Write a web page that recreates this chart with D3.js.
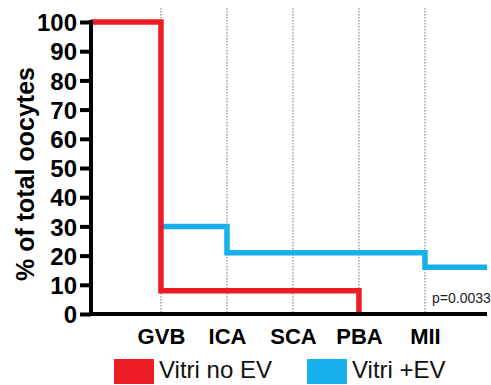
<!DOCTYPE html>
<html><head><meta charset="utf-8">
<script src="https://cdn.jsdelivr.net/npm/d3@7"></script>
<style>body{margin:0;background:#fff}svg{display:block}</style>
</head><body>
<svg id="c" width="491" height="385"></svg>
<script>
const categories = ["GVB", "ICA", "SCA", "PBA", "MII"];
const yTicks = [0, 10, 20, 30, 40, 50, 60, 70, 80, 90, 100];
// Vitri no EV: value before GVB, then value after each stage (ends at PBA)
const noEVStart = 100;
const noEVValues = [8, 8, 8, 0];
// Vitri +EV: value after each stage
const plusEVValues = [30, 21, 21, 21, 16];
const seriesNames = ["Vitri no EV", "Vitri +EV"];
const seriesColors = ["#ed1c24", "#18b0ec"];
const pText = "p=0.0033";

const svg = d3.select("#c");
const font = "'Liberation Sans', Arial, sans-serif";
const x = d3.scaleLinear().domain([-1.06, 4.94]).range([91, 487]);
const y = d3.scaleLinear().domain([0, 100]).range([314, 22]);
const xStart = x.domain()[0], xEnd = x.domain()[1];

// dotted verticals
svg.append("g").selectAll("line").data(categories).join("line")
  .attr("x1", (d, i) => x(i)).attr("x2", (d, i) => x(i))
  .attr("y1", 8).attr("y2", 314)
  .attr("stroke", "#8a8a8a").attr("stroke-width", 1.2)
  .attr("stroke-dasharray", "1.5,1.5");

const line = d3.line().x(d => x(d[0])).y(d => y(d[1])).curve(d3.curveStepAfter);
const redPts = [[xStart, noEVStart]].concat(noEVValues.map((v, i) => [i, v]));
const bluePts = plusEVValues.map((v, i) => [i, v]).concat([[xEnd, plusEVValues[plusEVValues.length - 1]]]);

svg.append("path").attr("d", line(bluePts)).attr("fill", "none")
  .attr("stroke", seriesColors[1]).attr("stroke-width", 5.5);
svg.append("path").attr("d", line(redPts)).attr("fill", "none")
  .attr("stroke", seriesColors[0]).attr("stroke-width", 5.5);

// axes
const yAxis = svg.append("g").attr("transform", "translate(91,0)")
  .call(d3.axisLeft(y).tickValues(yTicks).tickSize(11).tickPadding(3));
yAxis.select(".domain").attr("stroke", "#000").attr("stroke-width", 4)
  .attr("d", `M0,${y(100) - 2}V${y(0) + 2}`);
yAxis.selectAll(".tick line").attr("stroke", "#000").attr("stroke-width", 4);
yAxis.selectAll(".tick text").attr("font-family", font).attr("font-weight", "bold")
  .attr("font-size", 24).attr("fill", "#000").attr("dy", "0.36em");

const xAxis = svg.append("g").attr("transform", "translate(0,314)")
  .call(d3.axisBottom(x).tickValues(d3.range(categories.length)).tickFormat(i => categories[i]).tickSize(0).tickPadding(10));
xAxis.select(".domain").attr("stroke", "#000").attr("stroke-width", 4)
  .attr("d", `M${x(xStart) - 2},0H${x(xEnd)}`);
xAxis.selectAll(".tick text").attr("font-family", font).attr("font-weight", "bold")
  .attr("font-size", 22).attr("fill", "#000").attr("dy", "0.9em");

// y title
svg.append("text").attr("transform", "translate(34,174) rotate(-90)")
  .attr("text-anchor", "middle").attr("font-family", font).attr("font-weight", "bold")
  .attr("font-size", 25).text("% of total oocytes");

// p value
svg.append("text").attr("x", 432).attr("y", 303).attr("font-family", font)
  .attr("font-size", 14).attr("fill", "#222").text(pText);

// legend
const legX = [114, 307];
const leg = svg.append("g").selectAll("g").data(seriesNames).join("g")
  .attr("transform", (d, i) => `translate(${legX[i]},359)`);
leg.append("rect").attr("width", 40).attr("height", 25).attr("fill", (d, i) => seriesColors[i]);
leg.append("text").attr("x", 45).attr("y", 19).attr("font-family", font)
  .attr("font-size", 24).attr("fill", "#111").text(d => d);
</script>
</body></html>
